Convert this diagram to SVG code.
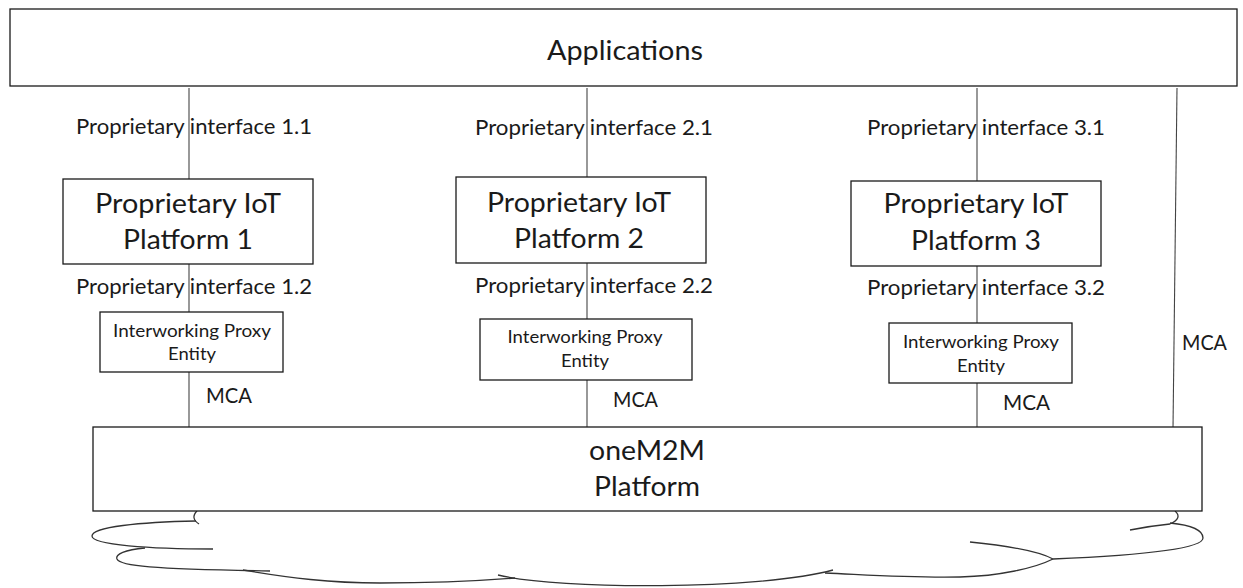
<svg xmlns="http://www.w3.org/2000/svg" width="1243" height="588" viewBox="0 0 1243 588">
<style>
.box{fill:#fff;stroke:#1a1a1a;stroke-width:1.3}
.ln{stroke:#444;stroke-width:1.1;fill:none}
.cl{stroke:#333;stroke-width:1.3;fill:none}
text{font-family:Lato,"Liberation Sans",sans-serif;fill:#1a1a1a}
.big{font-size:27px}
.lbl{font-size:21px}
.ipe{font-size:18px}
.mid{text-anchor:middle}
</style>
<rect width="1243" height="588" fill="#fff"/>
<g id="cloud">
<path class="cl" d="M197,511 Q190,518 199,524"/>
<path class="cl" d="M196,521 C140,522 92,527 92,536 C92,545 150,549 213,549"/>
<path class="cl" d="M145,548 C125,550 115,554 117,559 C120,566 150,569 270,571"/>
<path class="cl" d="M243,570 C290,578 330,583 380,583 C440,583 490,580 515,578"/>
<path class="cl" d="M498,575 C560,590 760,590 833,570"/>
<path class="cl" d="M825,573 C870,575 910,578 960,577 C1000,576 1035,568 1053,559"/>
<path class="cl" d="M970,542 C1010,546 1040,552 1053,559 C1100,557 1203,552 1203,538 C1203,530 1190,525 1170,523"/>
<path class="cl" d="M1175,511 Q1183,518 1170,524"/>
<path class="cl" d="M1130,530 Q1150,526 1170,524"/>
</g>
<g id="connectors">
<line class="ln" x1="189" y1="88" x2="189" y2="179"/>
<line class="ln" x1="189" y1="264" x2="189" y2="312"/>
<line class="ln" x1="189" y1="372" x2="189" y2="427"/>
<line class="ln" x1="587" y1="88" x2="587" y2="177"/>
<line class="ln" x1="587" y1="263" x2="587" y2="319"/>
<line class="ln" x1="587" y1="380" x2="587" y2="427"/>
<line class="ln" x1="977" y1="88" x2="977" y2="181"/>
<line class="ln" x1="977" y1="266" x2="977" y2="323"/>
<line class="ln" x1="977" y1="383" x2="977" y2="428"/>
<line class="ln" x1="1177" y1="88" x2="1173" y2="428"/>
<text class="lbl" x="76" y="134" textLength="236" lengthAdjust="spacingAndGlyphs">Proprietary interface 1.1</text>
<text class="lbl" x="76" y="294" textLength="236" lengthAdjust="spacingAndGlyphs">Proprietary interface 1.2</text>
<text class="lbl" x="206" y="403" textLength="46" lengthAdjust="spacingAndGlyphs">MCA</text>
<text class="lbl" x="475" y="135" textLength="238" lengthAdjust="spacingAndGlyphs">Proprietary interface 2.1</text>
<text class="lbl" x="475" y="293" textLength="238" lengthAdjust="spacingAndGlyphs">Proprietary interface 2.2</text>
<text class="lbl" x="613" y="407" textLength="45" lengthAdjust="spacingAndGlyphs">MCA</text>
<text class="lbl" x="867" y="135" textLength="238" lengthAdjust="spacingAndGlyphs">Proprietary interface 3.1</text>
<text class="lbl" x="867" y="295" textLength="238" lengthAdjust="spacingAndGlyphs">Proprietary interface 3.2</text>
<text class="lbl" x="1003" y="410" textLength="47" lengthAdjust="spacingAndGlyphs">MCA</text>
<text class="lbl" x="1182" y="350" textLength="45" lengthAdjust="spacingAndGlyphs">MCA</text>
</g>
<g id="applications">
<rect class="box" x="10" y="9" width="1227" height="77"/>
<text class="big mid" x="625" y="60" textLength="156" lengthAdjust="spacingAndGlyphs">Applications</text>
</g>
<g id="platform1">
<rect class="box" x="63" y="179" width="250" height="85"/>
<text class="big mid" x="188" y="213" textLength="186" lengthAdjust="spacingAndGlyphs">Proprietary IoT</text>
<text class="big mid" x="188" y="249" textLength="130" lengthAdjust="spacingAndGlyphs">Platform 1</text>
</g>
<g id="platform2">
<rect class="box" x="456" y="177" width="250" height="86"/>
<text class="big mid" x="579" y="212" textLength="184" lengthAdjust="spacingAndGlyphs">Proprietary IoT</text>
<text class="big mid" x="579" y="248" textLength="130" lengthAdjust="spacingAndGlyphs">Platform 2</text>
</g>
<g id="platform3">
<rect class="box" x="851" y="181" width="250" height="85"/>
<text class="big mid" x="976" y="213" textLength="185" lengthAdjust="spacingAndGlyphs">Proprietary IoT</text>
<text class="big mid" x="976" y="250" textLength="130" lengthAdjust="spacingAndGlyphs">Platform 3</text>
</g>
<g id="ipe1">
<rect class="box" x="100" y="312" width="183" height="60"/>
<text class="ipe mid" x="192" y="337" textLength="158" lengthAdjust="spacingAndGlyphs">Interworking  Proxy</text>
<text class="ipe mid" x="192" y="360" textLength="48" lengthAdjust="spacingAndGlyphs">Entity</text>
</g>
<g id="ipe2">
<rect class="box" x="480" y="319" width="212" height="61"/>
<text class="ipe mid" x="585" y="343" textLength="155" lengthAdjust="spacingAndGlyphs">Interworking  Proxy</text>
<text class="ipe mid" x="585" y="367" textLength="48" lengthAdjust="spacingAndGlyphs">Entity</text>
</g>
<g id="ipe3">
<rect class="box" x="889" y="323" width="183" height="60"/>
<text class="ipe mid" x="981" y="348" textLength="156" lengthAdjust="spacingAndGlyphs">Interworking  Proxy</text>
<text class="ipe mid" x="981" y="372" textLength="48" lengthAdjust="spacingAndGlyphs">Entity</text>
</g>
<g id="onem2m">
<rect class="box" x="93" y="427" width="1109" height="84"/>
<text class="big mid" x="647" y="460" textLength="116" lengthAdjust="spacingAndGlyphs">oneM2M</text>
<text class="big mid" x="647" y="496" textLength="106" lengthAdjust="spacingAndGlyphs">Platform</text>
</g>
</svg>
